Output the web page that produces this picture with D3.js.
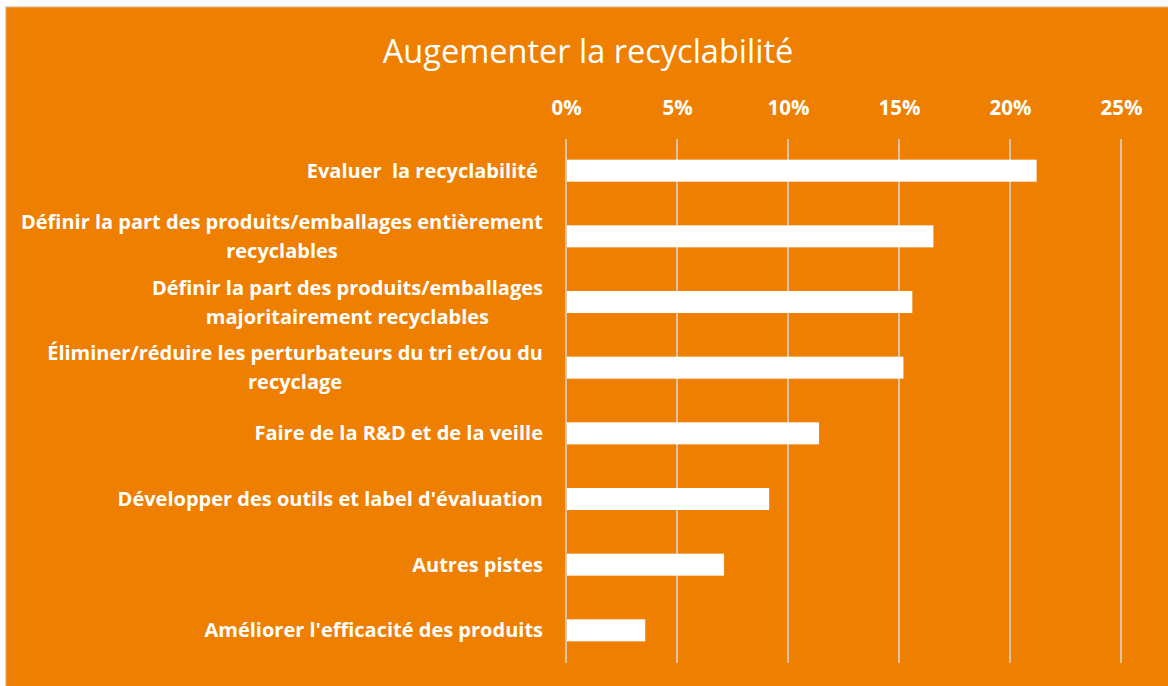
<!DOCTYPE html>
<html>
<head>
<meta charset="utf-8">
<script src="https://cdn.jsdelivr.net/npm/d3@7"></script>
<style>
  html, body { margin: 0; padding: 0; background: #ffffff; }
  svg { display: block; }
</style>
</head>
<body>
<svg id="chart" width="1168" height="686"></svg>
<script>
const title = "Augementer la recyclabilité";
const categories = [
  "Evaluer  la recyclabilité ",
  "Définir la part des produits/emballages entièrement\nrecyclables",
  "Définir la part des produits/emballages\nmajoritairement recyclables",
  "Éliminer/réduire les perturbateurs du tri et/ou du\nrecyclage",
  "Faire de la R&D et de la veille",
  "Développer des outils et label d'évaluation",
  "Autres pistes",
  "Améliorer l'efficacité des produits"
];
const values = [0.212, 0.1655, 0.156, 0.152, 0.114, 0.0915, 0.0712, 0.0357];
const tickValues = [0, 0.05, 0.10, 0.15, 0.20, 0.25];

const ORANGE = "#EE7F00";
const GRID = "#D9D9D9";
const FONT = "'Open Sans', Lato, sans-serif";

const svg = d3.select("#chart");

svg.append("rect")
  .attr("x", 5.5).attr("y", 6.5)
  .attr("width", 1170).attr("height", 690)
  .attr("fill", ORANGE)
  .attr("stroke", GRID).attr("stroke-width", 1.5);

const x = d3.scaleLinear().domain([0, 0.25]).range([566, 1121]);
const y = d3.scaleBand().domain(categories).range([138, 663]).paddingInner(0.665).paddingOuter(0.33);

svg.append("text")
  .attr("x", 588).attr("y", 63)
  .attr("text-anchor", "middle")
  .attr("fill", "#fff")
  .attr("font-family", FONT)
  .attr("font-size", 32.5)
  .text(title);

svg.append("g")
  .selectAll("line")
  .data(tickValues)
  .join("line")
  .attr("x1", d => x(d)).attr("x2", d => x(d))
  .attr("y1", 139).attr("y2", 663)
  .attr("stroke", GRID).attr("stroke-width", 1.5);

const xAxis = d3.axisTop(x).tickValues(tickValues).tickFormat(d3.format(".0%")).tickSize(0).tickPadding(0);
const gx = svg.append("g").attr("transform", "translate(0,115)").call(xAxis);
gx.select(".domain").remove();
gx.selectAll("text")
  .attr("fill", "#fff")
  .attr("font-family", FONT)
  .attr("font-weight", "bold")
  .attr("font-size", 20.5);

svg.append("g")
  .selectAll("rect")
  .data(values)
  .join("rect")
  .attr("x", x(0) + 1)
  .attr("y", (d, i) => y(categories[i]))
  .attr("width", d => x(d) - x(0) - 1)
  .attr("height", y.bandwidth())
  .attr("fill", "#fff");

const labelG = svg.append("g");
const lineH = 29;
categories.forEach(c => {
  const lines = c.split("\n");
  const cy = y(c) + y.bandwidth() / 2;
  const t = labelG.append("text")
    .attr("fill", "#fff")
    .attr("font-family", FONT)
    .attr("font-weight", "bold")
    .attr("font-size", 20)
    .attr("text-anchor", "middle")
    .attr("xml:space", "preserve")
    .style("white-space", "pre");
  lines.forEach((ln, k) => {
    t.append("tspan")
      .attr("x", 0)
      .attr("y", cy + (k - (lines.length - 1) / 2) * lineH)
      .attr("dy", "0.35em")
      .text(ln);
  });
  const w = d3.max(t.selectAll("tspan").nodes(), n => n.getComputedTextLength());
  t.attr("transform", `translate(${543 - w / 2},0)`);
});
</script>
</body>
</html>
